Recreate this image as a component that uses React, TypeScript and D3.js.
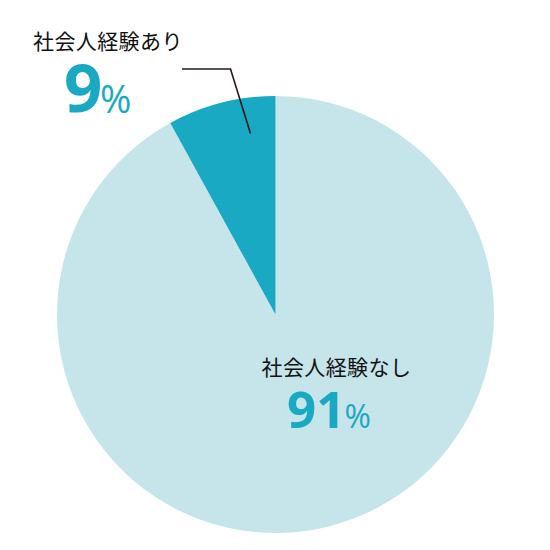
import React from "react";
import * as d3 from "d3";

// Data
const categories = ["社会人経験なし", "社会人経験あり"];
const shares = [92, 8]; // arc shares as drawn
const percentLabels = ["91", "9"];
const colors = ["#c6e5ea", "#1aa9c2"];

const W = 550;
const H = 550;
const cx = 275.5;
const cy = 314.5;
const R = 218.5;

export default function App() {
  const pie = d3
    .pie<number>()
    .sort(null)
    .value((d) => d)
    .startAngle(0)
    .endAngle(2 * Math.PI);
  const arcs = pie(shares);
  const arcGen = d3.arc<d3.PieArcDatum<number>>().innerRadius(0).outerRadius(R);

  const jp = "'Noto Sans CJK JP', 'Noto Sans', sans-serif";
  const num = "'Open Sans', 'Noto Sans', sans-serif";

  return (
    <svg
      width={W}
      height={H}
      viewBox={`0 0 ${W} ${H}`}
      style={{ position: "absolute", left: 0, top: 0, display: "block" }}
    >
      <rect width={W} height={H} fill="#ffffff" />
      <g transform={`translate(${cx},${cy})`}>
        {arcs.map((a, i) => (
          <path key={i} d={arcGen(a) || ""} fill={colors[i]} />
        ))}
      </g>
      {/* leader line */}
      <polyline
        points="182,69 230.5,69 250.5,133.5"
        fill="none"
        stroke="#231815"
        strokeWidth={1.6}
      />
      {/* small slice label */}
      <text x={33} y={48.5} fontFamily={jp} fontSize={21} fill="#111" letterSpacing={0.4}>
        {categories[1]}
      </text>
      <text x={64} y={112} fontFamily={num} fontWeight={700} fontSize={67} fill="#1aa9c2">
        {percentLabels[1]}
      </text>
      <text x={100} y={112.5} fontFamily={num} fontWeight={500} fontSize={38} fill="#1aa9c2">
        %
      </text>
      {/* large slice label */}
      <text x={261.5} y={374.5} fontFamily={jp} fontSize={21} fill="#111" letterSpacing={0.4}>
        {categories[0]}
      </text>
      <text x={287} y={428} fontFamily={num} fontWeight={700} fontSize={51} fill="#1aa9c2">
        {percentLabels[0]}
      </text>
      <text x={344.5} y={428} fontFamily={num} fontWeight={500} fontSize={32} fill="#1aa9c2">
        %
      </text>
    </svg>
  );
}
